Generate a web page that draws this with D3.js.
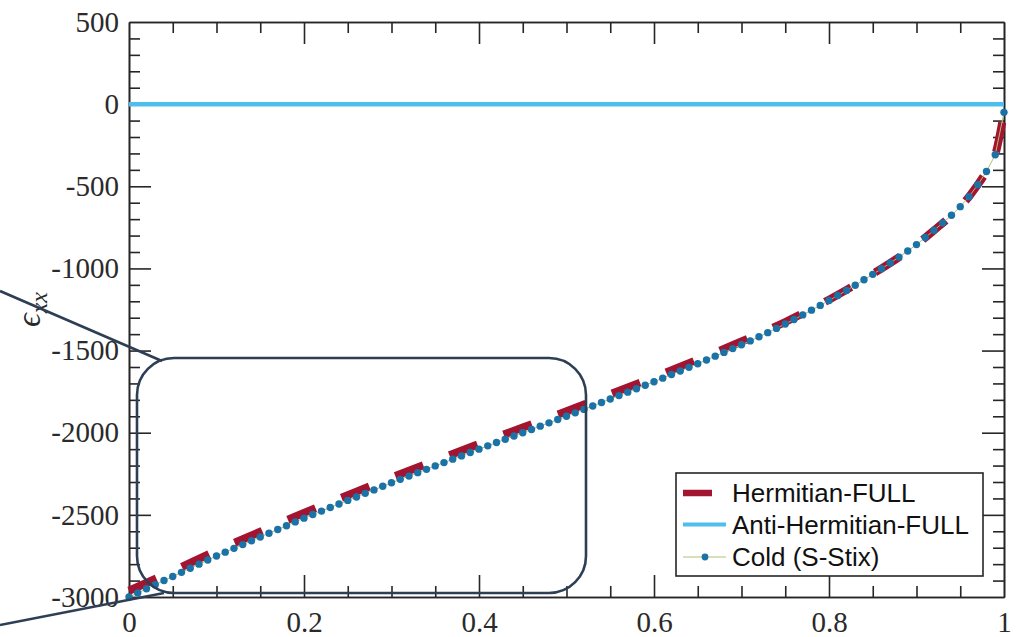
<!DOCTYPE html>
<html>
<head>
<meta charset="utf-8">
<script src="https://cdn.jsdelivr.net/npm/d3@7/dist/d3.min.js"></script>
<style>
  html, body { margin: 0; padding: 0; background: #fff; }
  svg { display: block; }
</style>
</head>
<body>
<svg id="chart" width="1025" height="637"></svg>
<script>
// Normalised abscissa, shared by the cold (S-Stix) samples
const coldX = d3.range(0, 101).map(i => i / 100);

// Cold plasma (Stix S) permittivity, one sample every 0.01
const coldY = [
  -3000, -2975, -2950, -2925, -2900, -2875, -2850, -2825, -2800, -2775,
  -2750, -2727, -2704, -2681, -2658, -2635, -2612, -2589, -2566, -2543,
  -2520, -2498, -2477, -2455, -2434, -2412, -2391, -2369, -2348, -2326,
  -2305, -2284, -2264, -2243, -2223, -2202, -2182, -2161, -2141, -2120,
  -2100, -2080, -2060, -2040, -2020, -2000, -1980, -1960, -1940, -1920,
  -1900, -1879, -1858, -1837, -1816, -1795, -1774, -1753, -1732, -1711,
  -1690, -1668, -1646, -1624, -1602, -1580, -1557, -1534, -1511, -1488,
  -1465, -1441, -1416, -1391, -1365, -1338, -1311, -1283, -1254, -1225,
  -1195, -1165, -1134, -1102, -1069, -1036, -1002, -967, -931, -894,
  -855, -812, -768, -723, -676, -624, -563, -491, -410, -308,
  -50
];

// Hermitian part of the full (hot) tensor
const hermX = [0, 0.05, 0.1, 0.15, 0.2, 0.25, 0.3, 0.35, 0.4, 0.45, 0.5, 0.55,
  0.6, 0.65, 0.7, 0.75, 0.8, 0.85, 0.9, 0.92, 0.94, 0.96, 0.97, 0.98, 0.99, 1.0];
const hermY = [-2962, -2842, -2718, -2603, -2488, -2380, -2273, -2170, -2068,
  -1968, -1870, -1765, -1662, -1555, -1445, -1326, -1190, -1034, -855, -768,
  -676, -563, -491, -410, -308, -50];

// Anti-Hermitian part of the full tensor
const antiX = [0, 1];
const antiY = [0, 0];

// Axis ticks
const xMajor = [0, 0.2, 0.4, 0.6, 0.8, 1];
const xMinor = d3.range(0, 21).map(i => i / 20).filter(v => Math.abs(v * 5 - Math.round(v * 5)) > 1e-6);
const yMajor = [-3000, -2500, -2000, -1500, -1000, -500, 0, 500];
const yMinor = d3.range(-3000, 501, 100).filter(v => v % 500 !== 0);

const legendLabels = ["Hermitian-FULL", "Anti-Hermitian-FULL", "Cold (S-Stix)"];

const colors = {
  herm: "#a2142f",
  anti: "#4dbeee",
  coldLine: "#b4bf72",
  coldMark: "#1a72a6",
  axis: "#262626",
  note: "#2d3e55"
};

const svg = d3.select("#chart");
const plotL = 129, plotR = 1004, plotT = 22, plotB = 597;

const x = d3.scaleLinear().domain([0, 1]).range([plotL, plotR]);
const y = d3.scaleLinear().domain([-3000, 500]).range([plotB, plotT]);

const serif = "'Liberation Serif', 'DejaVu Serif', serif";
const MAJ = 22, MIN = 11;

// ----- axes: ticks point inwards on all four sides -----
function styleAxis(g) {
  g.attr("font-family", serif).attr("font-size", 29);
  g.selectAll(".tick line").attr("stroke", colors.axis).attr("stroke-width", 1.6);
  g.selectAll("path.domain").attr("stroke", colors.axis).attr("stroke-width", 1.6);
  g.selectAll("text").attr("fill", "#2a2a2a");
}

// bottom
svg.append("g").attr("transform", `translate(0,${plotB})`)
  .call(d3.axisBottom(x).tickValues(xMinor).tickSize(-MIN).tickSizeOuter(0).tickFormat(""))
  .call(styleAxis);
svg.append("g").attr("transform", `translate(0,${plotB})`)
  .call(d3.axisBottom(x).tickValues(xMajor).tickSize(-MAJ).tickSizeOuter(0)
    .tickPadding(14).tickFormat(d => String(d)))
  .call(styleAxis);
// top
svg.append("g").attr("transform", `translate(0,${plotT})`)
  .call(d3.axisTop(x).tickValues(xMinor).tickSize(-MIN).tickSizeOuter(0).tickFormat(""))
  .call(styleAxis);
svg.append("g").attr("transform", `translate(0,${plotT})`)
  .call(d3.axisTop(x).tickValues(xMajor).tickSize(-MAJ).tickSizeOuter(0).tickFormat(""))
  .call(styleAxis);
// left
svg.append("g").attr("transform", `translate(${plotL},0)`)
  .call(d3.axisLeft(y).tickValues(yMinor).tickSize(-MIN).tickSizeOuter(0).tickFormat(""))
  .call(styleAxis);
svg.append("g").attr("transform", `translate(${plotL},0)`)
  .call(d3.axisLeft(y).tickValues(yMajor).tickSize(-MAJ).tickSizeOuter(0)
    .tickPadding(10).tickFormat(d => String(d)))
  .call(styleAxis);
// right
svg.append("g").attr("transform", `translate(${plotR},0)`)
  .call(d3.axisRight(y).tickValues(yMinor).tickSize(-MIN).tickSizeOuter(0).tickFormat(""))
  .call(styleAxis);
svg.append("g").attr("transform", `translate(${plotR},0)`)
  .call(d3.axisRight(y).tickValues(yMajor).tickSize(-MAJ).tickSizeOuter(0).tickFormat(""))
  .call(styleAxis);

// hide ticks that sit on the frame corners
svg.selectAll(".tick line").filter(function () {
  const t = d3.select(this.parentNode).datum();
  return t === 0 || t === 1 || t === -3000 || t === 500;
}).attr("display", "none");

// y-axis title: epsilon_xx
const yTitle = svg.append("text")
  .attr("transform", `translate(40,${(plotT + plotB) / 2}) rotate(-90)`)
  .attr("text-anchor", "middle")
  .attr("font-family", serif)
  .attr("font-style", "italic")
  .attr("font-size", 34)
  .attr("fill", "#2a2a2a");
yTitle.append("tspan").text("ϵ");
yTitle.append("tspan").attr("font-size", 24).attr("dy", 7).text("xx");

// ----- data -----
const plot = svg.append("g");

const hermLine = d3.line().x((d, i) => x(hermX[i])).y(d => y(d)).curve(d3.curveMonotoneX);
plot.append("path")
  .datum(hermY)
  .attr("d", hermLine)
  .attr("fill", "none")
  .attr("stroke", colors.herm)
  .attr("stroke-width", 8)
  .attr("stroke-dasharray", "30,28");

const antiLine = d3.line().x((d, i) => x(antiX[i])).y(d => y(d));
plot.append("path")
  .datum(antiY)
  .attr("d", antiLine)
  .attr("fill", "none")
  .attr("stroke", colors.anti)
  .attr("stroke-width", 4.5);

const coldLine = d3.line().x((d, i) => x(coldX[i])).y(d => y(d));
plot.append("path")
  .datum(coldY)
  .attr("d", coldLine)
  .attr("fill", "none")
  .attr("stroke", colors.coldLine)
  .attr("stroke-width", 1);

plot.selectAll("circle.cold")
  .data(coldY)
  .join("circle")
  .attr("class", "cold")
  .attr("cx", (d, i) => x(coldX[i]))
  .attr("cy", d => y(d))
  .attr("r", 3.7)
  .attr("fill", colors.coldMark);

// ----- legend -----
const lg = svg.append("g").attr("transform", "translate(676,473)");
lg.append("rect")
  .attr("width", 307).attr("height", 103)
  .attr("fill", "#fff").attr("stroke", colors.axis).attr("stroke-width", 1.6);

const rows = [20, 51.5, 84];
lg.append("line").attr("x1", 7).attr("x2", 36).attr("y1", rows[0]).attr("y2", rows[0])
  .attr("stroke", colors.herm).attr("stroke-width", 6.5);
lg.append("line").attr("x1", 7).attr("x2", 50).attr("y1", rows[1]).attr("y2", rows[1])
  .attr("stroke", colors.anti).attr("stroke-width", 4);
lg.append("line").attr("x1", 7).attr("x2", 50).attr("y1", rows[2]).attr("y2", rows[2])
  .attr("stroke", colors.coldLine).attr("stroke-width", 1);
lg.append("circle").attr("cx", 29).attr("cy", rows[2]).attr("r", 3.4).attr("fill", colors.coldMark);

lg.selectAll("text.lab")
  .data(legendLabels)
  .join("text")
  .attr("class", "lab")
  .attr("x", 56)
  .attr("y", (d, i) => rows[i])
  .attr("dy", "0.36em")
  .attr("font-family", "'Liberation Sans', Arial, sans-serif")
  .attr("font-size", 26)
  .attr("fill", "#111")
  .text(d => d);

// ----- zoom callout: rounded box joined to the left edge -----
const note = svg.append("g")
  .attr("fill", "none")
  .attr("stroke", colors.note)
  .attr("stroke-width", 2.6);
note.append("rect")
  .attr("x", 137).attr("y", 358).attr("width", 449).attr("height", 235)
  .attr("rx", 37).attr("ry", 37);
note.append("line").attr("x1", 0).attr("y1", 291).attr("x2", 162).attr("y2", 361);
note.append("line").attr("x1", 0).attr("y1", 625).attr("x2", 164).attr("y2", 593);
</script>
</body>
</html>
